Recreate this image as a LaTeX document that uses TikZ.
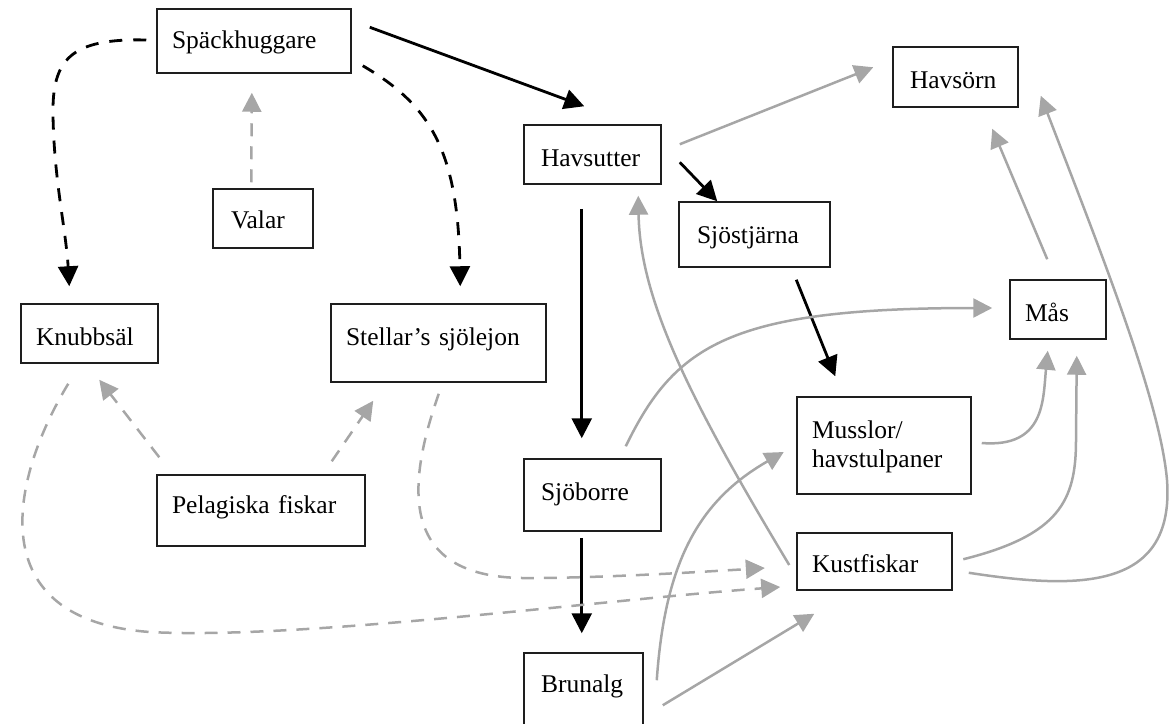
\documentclass[tikz,border=0pt]{standalone}
\usepackage{fontspec}
\setmainfont{Liberation Serif}
\usetikzlibrary{arrows.meta}
\definecolor{arrgray}{RGB}{166,166,166}
\definecolor{boxline}{RGB}{30,30,30}
\tikzset{
  box/.style n args={4}{draw=boxline, line width=1.5pt, fill=white,
    align=left, inner ysep=0pt, inner xsep=#1, text width=#2,
    text height=#3, text depth=#4,
    font=\fontsize{25.5}{29}\selectfont},
  blk/.style={draw=black, line width=2.8pt, -{Triangle[length=20pt,width=20pt]}},
  blkd/.style={blk, dash pattern=on 13pt off 11pt},
  gry/.style={draw=arrgray, line width=2.5pt, -{Triangle[length=19pt,width=19pt]}},
  gryd/.style={gry, dash pattern=on 13pt off 10pt},
}
\begin{document}
\begin{tikzpicture}[x=1pt,y=-1pt]
\useasboundingbox (0,0) rectangle (1174,723);

% species boxes
\node[box={15pt}{164pt}{39pt}{25pt}]   (spk) at (254,41)      {Späckhuggare};
\node[box={18pt}{64pt}{39pt}{20pt}]    (val) at (263,218.5)   {Valar};
\node[box={15pt}{107pt}{41pt}{18pt}]   (knb) at (89.5,333.5)  {Knubbsäl};
\node[box={15pt}{185pt}{41pt}{37pt}]   (stl) at (438.5,343)   {Stellar’s sjölejon};
\node[box={15pt}{178pt}{38pt}{33pt}]   (pel) at (261,510.5)   {Pelagiska fiskar};
\node[box={17pt}{103pt}{41pt}{18pt}]   (hav) at (592.5,154.5) {Havsutter};
\node[box={17pt}{103pt}{41pt}{31pt}]   (sjb) at (592.5,495)   {Sjöborre};
\node[box={17pt}{85pt}{39pt}{48pt}]    (brg) at (583.5,696.5) {Brunalg};
\node[box={18pt}{115pt}{41pt}{24pt}]   (sjo) at (754.5,234.5) {Sjöstjärna};
\node[box={17pt}{91pt}{41pt}{19pt}]    (hso) at (955.5,77)    {Havsörn};
\node[box={15pt}{66pt}{41pt}{18pt}]    (mas) at (1058,309.5)  {Mås};
\node[box={15pt}{144pt}{41pt}{56pt}]   (mus) at (884,445.5)   {Musslor/\\havstulpaner};
\node[box={15pt}{125pt}{39pt}{18pt}]   (kus) at (874.5,561.5) {Kustfiskar};

% strong links
\draw[blk] ([shift={(18,19)}]spk.north east) -- ([shift={(61,-18)}]hav.north west);
\draw[blk] ([shift={(18,38)}]hav.north east) -- ([shift={(39,0)}]sjo.north west);
\draw[blk] ([shift={(58.5,24)}]hav.south west) -- ([shift={(58.5,-20)}]sjb.north west);
\draw[blk] ([shift={(58.5,6)}]sjb.south west) -- ([shift={(58.5,-19)}]brg.north west);
\draw[blk] ([shift={(118,12)}]sjo.south west) -- ([shift={(39,-20)}]mus.north west);

% killer whale diet shift
\draw[blkd] ([shift={(-10,-1)}]spk.west) .. controls (70,38) and (52,60) .. (53,115)
  .. controls (54,180) and (66,230) .. ([shift={(49,-17)}]knb.north west);
\draw[blkd] ([shift={(11,-8)}]spk.south east) .. controls (430,105) and (458,150)
  .. ([shift={(130,-17)}]stl.north west);

% weaker links
\draw[gry] ([shift={(18,20)}]hav.north east) -- ([shift={(-19,21)}]hso.north west);
\draw[gry] ([shift={(38,-20)}]mas.north west) -- ([shift={(100,21)}]hso.south west);
\draw[gry] ([shift={(16,-18)}]kus.south east) .. controls (1080,590) and (1175,590) .. (1167,480)
  .. controls (1160,400) and (1100,250) .. ([shift={(22,-12)}]hso.south east);
\draw[gry] ([shift={(10,-2.5)}]mus.east) .. controls (1045,448) and (1043,400)
  .. ([shift={(38.5,11)}]mas.south west);
\draw[gry] ([shift={(10.5,27)}]kus.north east) .. controls (1060,535) and (1076,500) .. (1076,440)
  -- ([shift={(-30,16)}]mas.south east);
\draw[gry] ([shift={(-36,-12)}]sjb.north east) .. controls (675,345) and (730,308)
  .. ([shift={(-17,-1.5)}]mas.west);
\draw[gry] ([shift={(-7,3.5)}]kus.west) .. controls (690,400) and (640,300)
  .. ([shift={(115,11)}]hav.south west);
\draw[gry] ([shift={(13,28)}]brg.north east) .. controls (665,560) and (700,500)
  .. ([shift={(-12.5,6.5)}]mus.west);
\draw[gry] ([shift={(19,53)}]brg.north east) -- ([shift={(18,23)}]kus.south west);

% dashed weaker links
\draw[gryd] ([shift={(39,-6)}]val.north west) -- ([shift={(95.6,19)}]spk.south west);
\draw[gryd] ([shift={(3,-17)}]pel.north west) -- ([shift={(79,16)}]knb.south west);
\draw[gryd] ([shift={(-34,-13)}]pel.north east) -- ([shift={(43,18)}]stl.south west);
\draw[gryd] ([shift={(48,20)}]knb.south west) .. controls (10,480) and (-20,620) .. (150,632)
  .. controls (300,640) and (600,600) .. ([shift={(-16,25.5)}]kus.west);
\draw[gryd] ([shift={(-108,11)}]stl.south east) .. controls (405,490) and (400,580) .. (530,578)
  .. controls (600,578) and (700,572) .. ([shift={(-31.4,6.5)}]kus.west);
\end{tikzpicture}
\end{document}
